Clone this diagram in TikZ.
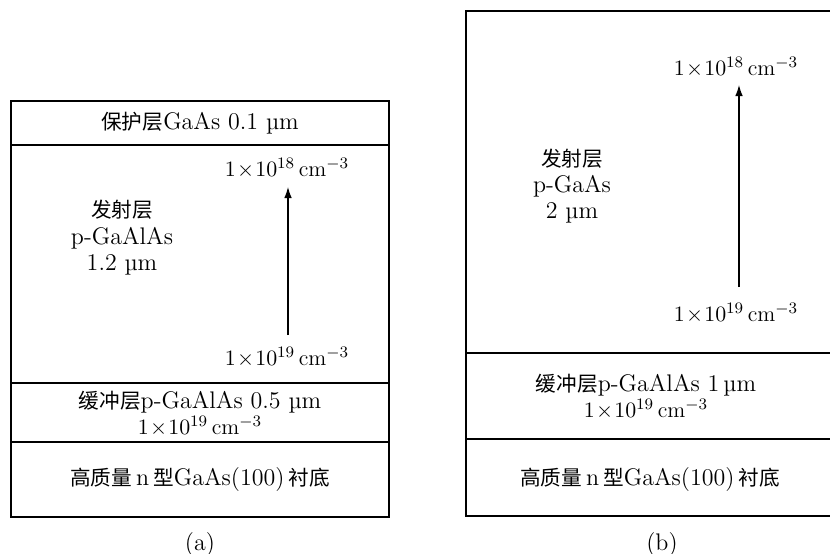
\documentclass[tikz,border=0pt]{standalone}
\usepackage{fontspec}
\newfontfamily\cjk{Noto Sans CJK SC}[Scale=0.86]
\usetikzlibrary{arrows.meta}
\newcommand{\conc}[1]{{\fontsize{11}{13}\selectfont$1\!\times\!10^{#1}\,\mathrm{cm}^{-3}$}}
\begin{document}
\begin{tikzpicture}[x=0.5pt,y=-0.5pt,
  every node/.style={font=\fontsize{12}{13}\selectfont, inner sep=0pt, align=center},
  layer/.style={draw, line width=0.6pt},
  grad/.style={-{Latex[length=5.5pt,width=3.8pt]}, line width=0.55pt}]
\useasboundingbox (0,0) rectangle (830,553);
% ---------- (a) ----------
\draw[layer] (11,101) rectangle (389,517);
\draw[layer] (11,145) -- (389,145);
\draw[layer] (11,383) -- (389,383);
\draw[layer] (11,442) -- (389,442);
\node (a-cap) at (200,123) {{\cjk 保护层}GaAs 0.1 µm};
\node (a-hi) at (287,168) {\conc{18}};
\node (a-em) at (122,238) {{\cjk 发射层}\\[0.25pt]p-GaAlAs\\[0.25pt]1.2 µm};
\node (a-lo) at (287,357) {\conc{19}};
\coordinate (a-s) at (288,335);
\coordinate (a-e) at (288,187);
\draw[grad] (a-s) -- (a-e);
\node (a-buf) at (200,414) {{\cjk 缓冲层}p-GaAlAs 0.5 µm\\\conc{19}};
\node (a-sub) at (200,480) {{\cjk 高质量}\,n\,{\cjk 型}GaAs(100)\,{\cjk 衬底}};
\node (a-lab) at (200,545) {(a)};
% ---------- (b) ----------
\draw[layer] (830,11) -- (466,11) -- (466,516) -- (830,516);
\draw[layer] (466,353) -- (830,353);
\draw[layer] (466,439) -- (830,439);
\node (b-hi) at (736,67) {\conc{18}};
\node (b-em) at (572,186) {\fontsize{12}{12}\selectfont{\cjk 发射层}\\p-GaAs\\2 µm};
\node (b-lo) at (736,313) {\conc{19}};
\coordinate (b-s) at (739,287);
\coordinate (b-e) at (739,85);
\draw[grad] (b-s) -- (b-e);
\node (b-buf) at (646,397) {{\cjk 缓冲层}p-GaAlAs 1\,µm\\\conc{19}};
\node (b-sub) at (650,480) {{\cjk 高质量}\,n\,{\cjk 型}GaAs(100)\,{\cjk 衬底}};
\node (b-lab) at (662,545) {(b)};
\end{tikzpicture}
\end{document}
